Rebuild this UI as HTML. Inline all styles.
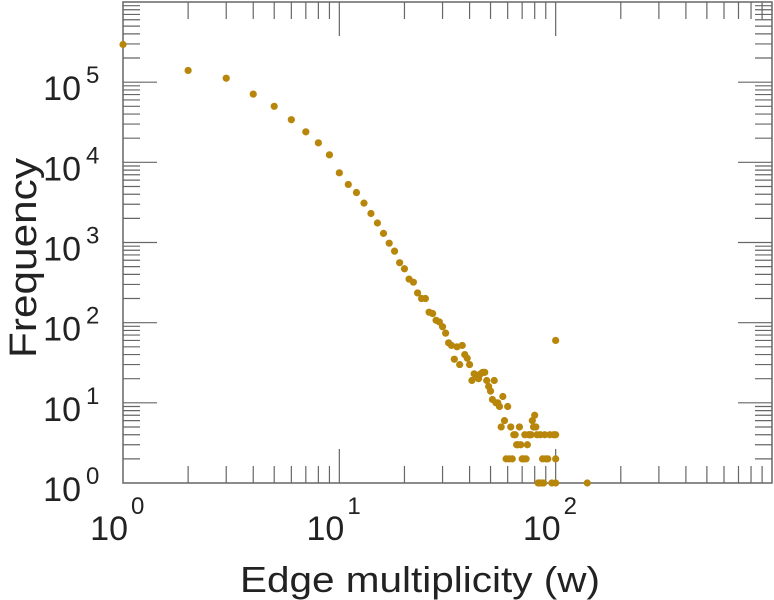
<!DOCTYPE html>
<html><head><meta charset="utf-8"><style>
body{margin:0;background:#fff}
svg{display:block}
text{font-family:"Liberation Sans",sans-serif;fill:#222}
</style></head><body>
<svg id="chart" width="774" height="600" xmlns="http://www.w3.org/2000/svg">
<g id="ticks"></g>
<rect x="123" y="2" width="649" height="481" fill="none" stroke="#666" stroke-width="1.5"/>
<g id="labels"></g>
<g id="points"></g>
<text x="240" y="592" font-size="36" textLength="360" lengthAdjust="spacingAndGlyphs">Edge multiplicity (w)</text>
<text x="0" y="0" font-size="38" textLength="200" lengthAdjust="spacingAndGlyphs" text-anchor="middle" transform="translate(36,258) rotate(-90)">Frequency</text>
</svg>
<script>
const multiplicity = [1,2,3,4,5,6,7,8,9,10,11,12,13,14,15,16,17,18,19,20,21,22,23,24,25,26,27,28,29,30,31,32,33,34,35,36,37,38,39,40,41,42,43,44,45,46,47,48,49,50,51,52,53,54,55,56,57,58,59,60,61,62,63,64,65,66,67,68,69,70,71,72,73,74,75,76,77,78,79,80,81,82,83,84,85,86,87,88,89,90,92,94,96,98,100,100,100,100,140];
const frequency = [295000,140000,112000,71000,50000,34000,24000,17500,12400,7400,5300,4200,3100,2300,1750,1300,980,780,560,470,350,320,235,200,200,135,130,107,102,89,74,56,52,35,50,30,52,40,36,30,19,23,22,20,23,24,24,19,16,14,11,19,10,10,9,5,12,6,2,9,2,5,2,4,4,3,3,5,3,2,2,4,2,3,4,4,4,6,5,7,5,4,1,1,4,1,2,1,4,2,2,4,1,4,60,1,2,4,1];
const xMajor = [1,10,100];
const xMajorLabels = ["0","1","2"];
const yMajor = [1,10,100,1000,10000,100000];
const yMajorLabels = ["0","1","2","3","4","5"];

const X0=123,X1=772,Y0=483,Y1=2;
const xDec=(X1-X0)/3, yDec=(Y0-Y1)/6;
function xs(v){return X0+Math.log10(v)*xDec;}
function ys(v){return Y0-Math.log10(v)*yDec;}
const NS="http://www.w3.org/2000/svg";
function mk(tag,attrs,parent){const e=document.createElementNS(NS,tag);for(const k in attrs)e.setAttribute(k,attrs[k]);parent.appendChild(e);return e;}

const tg=document.getElementById('ticks');
for(let d=0;d<3;d++){for(let m=1;m<10;m++){
  const v=m*Math.pow(10,d); if(v<=1) continue; const x=xs(v); const L=(m===1)?34:17;
  let t=mk('line',{x1:x,x2:x,y1:Y0,y2:Y0-L,stroke:'#666','stroke-width':1.2},tg);
  
  
  t=mk('line',{x1:x,x2:x,y1:Y1,y2:Y1+L,stroke:'#666','stroke-width':1.2},tg);
  
  
}}
for(let d=0;d<6;d++){for(let m=1;m<10;m++){
  const v=m*Math.pow(10,d); if(v<=1) continue; const y=ys(v); const L=(m===1)?34:17;
  let t=mk('line',{x1:X0,x2:X0+L,y1:y,y2:y,stroke:'#666','stroke-width':1.2},tg);
  
  
  t=mk('line',{x1:X1,x2:X1-L,y1:y,y2:y,stroke:'#666','stroke-width':1.2},tg);
  
  
}}

const lg=document.getElementById('labels');
xMajor.forEach((v,i)=>{
  const x=xs(v);
  let t=mk('text',{x:x+5,y:540,'font-size':34,'text-anchor':'end'},lg); t.textContent='10';
  
  
  t=mk('text',{x:x+8,y:514,'font-size':24},lg); t.textContent=xMajorLabels[i];
  
  
});
yMajor.forEach((v,i)=>{
  const y=ys(v);
  let t=mk('text',{x:81,y:y+18,'font-size':34,'text-anchor':'end'},lg); t.textContent='10';
  
  
  t=mk('text',{x:86,y:y+1,'font-size':24},lg); t.textContent=yMajorLabels[i];
  
  
});

const pg=document.getElementById('points');
multiplicity.forEach((w,i)=>{
  const c=mk('circle',{cx:xs(w),cy:ys(frequency[i]),r:3.6,fill:'#b8860b'},pg);
  
  
});
</script>
</body></html>
